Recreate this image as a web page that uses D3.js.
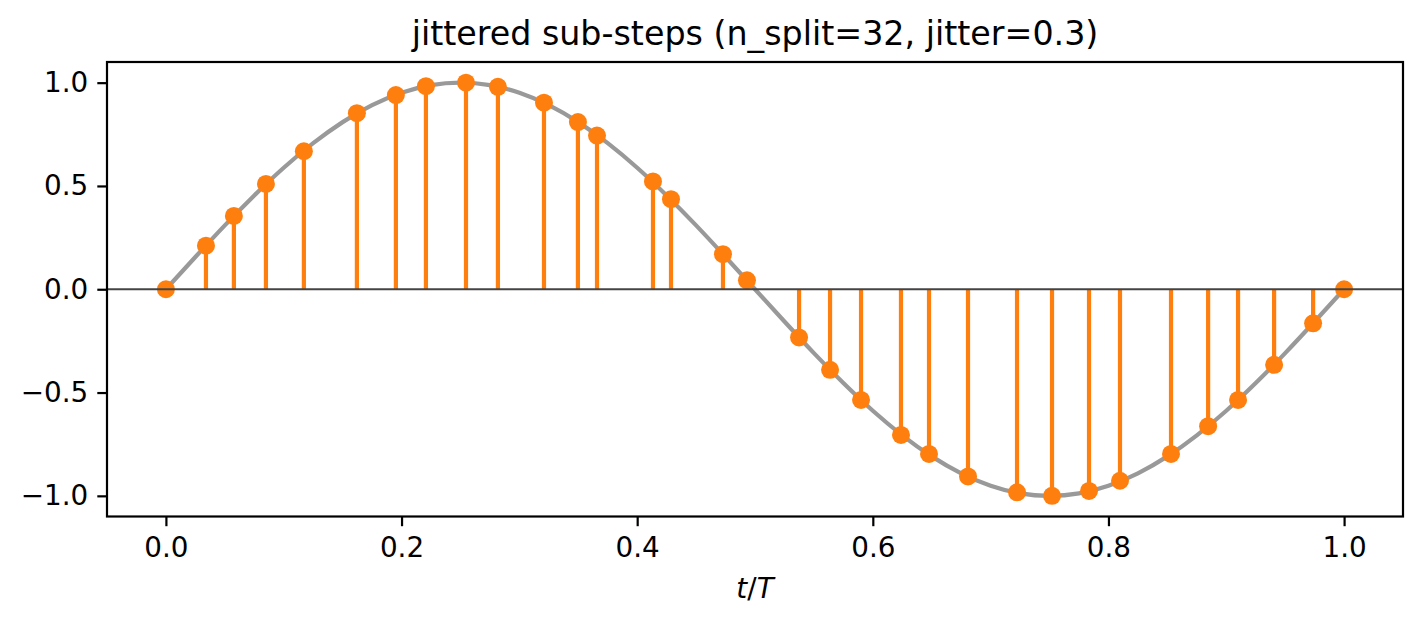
<!DOCTYPE html>
<html>
<head>
<meta charset="utf-8">
<script src="https://cdn.jsdelivr.net/npm/d3@7"></script>
<style>
  body { margin: 0; background: #fff; }
  svg { display: block; font-family: "DejaVu Sans", sans-serif; }
</style>
</head>
<body>
<svg id="chart"></svg>
<script>
// jittered sample times and their values
const sampleT = [0.0, 0.034, 0.0577, 0.0849, 0.1171, 0.1621, 0.1952, 0.2207, 0.2547, 0.2818,
                 0.3209, 0.3497, 0.3659, 0.4134, 0.4287, 0.4728, 0.4932, 0.5374, 0.5637, 0.59,
                 0.6239, 0.6477, 0.6808, 0.7224, 0.7521, 0.7835, 0.8098, 0.8531, 0.8846, 0.91,
                 0.9406, 0.9737, 1.0];
const sampleY = [0.0, 0.211, 0.355, 0.510, 0.668, 0.852, 0.940, 0.983, 1.0, 0.980,
                 0.903, 0.809, 0.744, 0.522, 0.436, 0.170, 0.043, -0.233, -0.390, -0.536,
                 -0.705, -0.797, -0.906, -0.983, -1.0, -0.976, -0.927, -0.797, -0.663, -0.536,
                 -0.366, -0.165, 0.0];

// reference curve (grey)
const curveT = [0.0, 0.025, 0.05, 0.075, 0.1, 0.125, 0.15, 0.175, 0.2, 0.225,
                0.25, 0.275, 0.3, 0.325, 0.35, 0.375, 0.4, 0.425, 0.45, 0.475,
                0.5, 0.525, 0.55, 0.575, 0.6, 0.625, 0.65, 0.675, 0.7, 0.725,
                0.75, 0.775, 0.8, 0.825, 0.85, 0.875, 0.9, 0.925, 0.95, 0.975, 1.0];
const curveY = [0.0, 0.156, 0.309, 0.454, 0.588, 0.707, 0.809, 0.891, 0.951, 0.988,
                1.0, 0.988, 0.951, 0.891, 0.809, 0.707, 0.588, 0.454, 0.309, 0.156,
                0.0, -0.156, -0.309, -0.454, -0.588, -0.707, -0.809, -0.891, -0.951, -0.988,
                -1.0, -0.988, -0.951, -0.891, -0.809, -0.707, -0.588, -0.454, -0.309, -0.156, 0.0];

const xTicks = [0.0, 0.2, 0.4, 0.6, 0.8, 1.0];
const yTicks = [-1.0, -0.5, 0.0, 0.5, 1.0];
const title = "jittered sub-steps (n_split=32, jitter=0.3)";

const w = 1423, h = 623;
const m = { left: 107, right: 1403, top: 62, bottom: 516.5 };

const svg = d3.select("#chart").attr("width", w).attr("height", h);

const x = d3.scaleLinear().domain([-0.05, 1.05]).range([m.left, m.right]);
const y = d3.scaleLinear().domain([-1.1, 1.1]).range([m.bottom, m.top]);

const samples = sampleT.map((t, i) => ({ t, v: sampleY[i] }));
const curve = curveT.map((t, i) => ({ t, v: curveY[i] }));

// grey reference curve
svg.append("path")
    .datum(curve)
    .attr("fill", "none")
    .attr("stroke", "#999999")
    .attr("stroke-width", 4.2)
    .attr("d", d3.line().x(d => x(d.t)).y(d => y(d.v)).curve(d3.curveNatural));

// stems
svg.selectAll("line.stem")
    .data(samples)
    .enter()
    .append("line")
    .attr("class", "stem")
    .attr("x1", d => x(d.t))
    .attr("x2", d => x(d.t))
    .attr("y1", y(0))
    .attr("y2", d => y(d.v))
    .attr("stroke", "#ff7f0e")
    .attr("stroke-width", 4.2);

// markers
svg.selectAll("circle")
    .data(samples)
    .enter()
    .append("circle")
    .attr("cx", d => x(d.t))
    .attr("cy", d => y(d.v))
    .attr("r", 9)
    .attr("fill", "#ff7f0e");

// baseline
svg.append("line")
    .attr("x1", m.left).attr("x2", m.right)
    .attr("y1", y(0)).attr("y2", y(0))
    .attr("stroke", "#444444")
    .attr("stroke-width", 2.2);

// axes
const fmt = d3.format(".1f");
const xAxis = d3.axisBottom(x).tickValues(xTicks).tickFormat(fmt).tickSize(9.7).tickPadding(9);
const yAxis = d3.axisLeft(y).tickValues(yTicks).tickFormat(fmt).tickSize(9.7).tickPadding(9);

const gx = svg.append("g").attr("transform", `translate(0,${m.bottom})`).call(xAxis);
const gy = svg.append("g").attr("transform", `translate(${m.left},0)`).call(yAxis);

[gx, gy].forEach(g => {
    g.select(".domain").remove();
    g.selectAll(".tick line").attr("stroke", "#000").attr("stroke-width", 2.2);
    g.selectAll(".tick text")
        .attr("fill", "#000")
        .style("font-family", "DejaVu Sans")
        .style("font-size", "27.8px");
});
gx.selectAll(".tick text").attr("dy", "0.78em");

// frame
svg.append("rect")
    .attr("x", m.left).attr("y", m.top)
    .attr("width", m.right - m.left).attr("height", m.bottom - m.top)
    .attr("fill", "none")
    .attr("stroke", "#000")
    .attr("stroke-width", 2.2);

// title
svg.append("text")
    .attr("x", (m.left + m.right) / 2)
    .attr("y", 45)
    .attr("text-anchor", "middle")
    .style("font-size", "33.3px")
    .text(title);

// x label  t/T
const xl = svg.append("text")
    .attr("x", (m.left + m.right) / 2)
    .attr("y", 598)
    .attr("text-anchor", "middle")
    .style("font-size", "27.8px");
xl.append("tspan").style("font-style", "italic").text("t");
xl.append("tspan").text("/");
xl.append("tspan").style("font-style", "italic").text("T");
</script>
</body>
</html>
